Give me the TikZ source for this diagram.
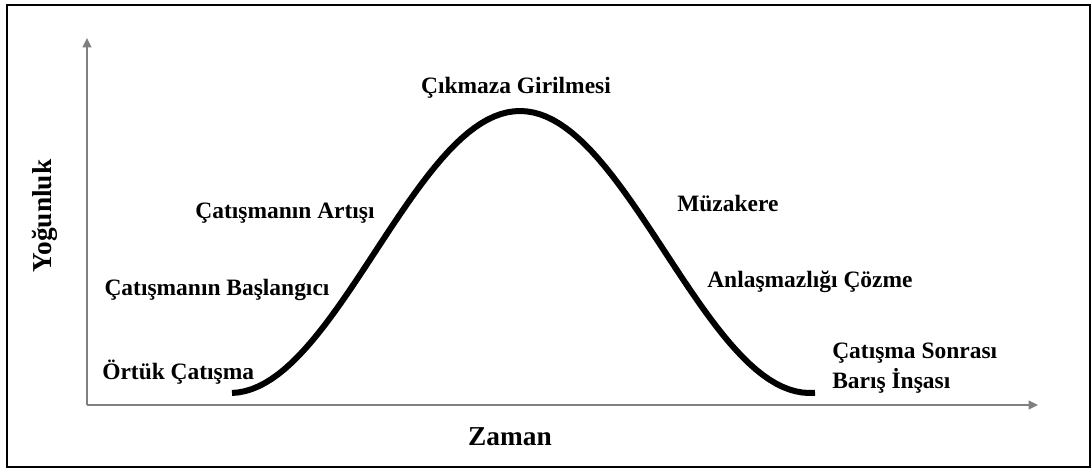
\documentclass[tikz,border=0pt]{standalone}
\usepackage{fontspec}
\setmainfont{Liberation Serif}
\usetikzlibrary{arrows.meta}
\definecolor{axisgray}{HTML}{808080}

\begin{document}
\begin{tikzpicture}[x=0.75pt,y=-0.75pt,
  phase/.style={font=\fontsize{17.6}{20}\selectfont\bfseries, inner sep=0pt},
  axislabel/.style={font=\fontsize{20.5}{24}\selectfont\bfseries, inner sep=0pt},
  axis/.style={draw=axisgray, line width=1.5pt, -{Triangle[width=6.5pt,length=7pt]}}]
\useasboundingbox (0,0) rectangle (1092,472);
\draw[line width=2.2pt] (7,5) rectangle (1090,467);
% axes
\coordinate (origin) at (87,405);
\coordinate (ytop) at (87,38);
\coordinate (xend) at (1038,405);
\draw[axis] (origin) -- (ytop);
\draw[axis] (origin) -- (xend);
% conflict curve
\draw[line width=4.5pt] plot[domain=-288:295, samples=90] ({520+\x}, {393-141*(1+cos(\x/290*180))});
% phases
\node[phase] (impasse) at (516,88) {Çıkmaza Girilmesi};
\node[phase] (escalation) at (285,213) {Çatışmanın Artışı};
\node[phase] (onset) at (217,290) {Çatışmanın Başlangıcı};
\node[phase, anchor=west] (latent) at (102,372) {Örtük Çatışma};
\node[phase, anchor=west] (negotiation) at (677,203) {Müzakere};
\node[phase, anchor=west] (resolution) at (707,282) {Anlaşmazlığı Çözme};
\node[phase, anchor=west] (postconflict) at (832,353) {Çatışma Sonrası};
\node[phase, anchor=west] (peacebuilding) at (832,381) {Barış İnşası};
% axis titles
\node[axislabel] (time) at (510,437) {Zaman};
\node[axislabel, rotate=90] (intensity) at (45,216) {Yoğunluk};
\end{tikzpicture}
\end{document}
